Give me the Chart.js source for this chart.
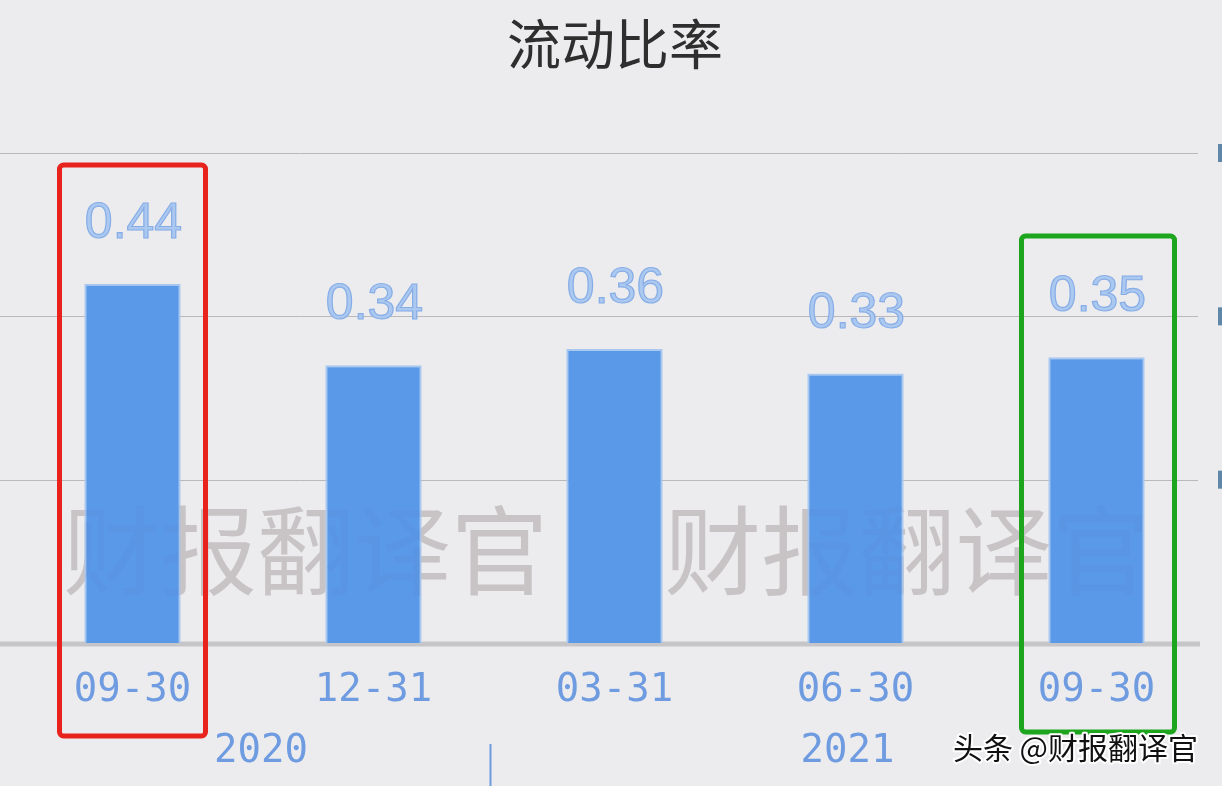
<!DOCTYPE html>
<html>
<head>
<meta charset="utf-8">
<title>流动比率</title>
<script src="https://cdn.jsdelivr.net/npm/chart.js@4.4.1/dist/chart.umd.min.js"></script>
<style>
  html, body { margin: 0; padding: 0; background: #ececee; }
  .wrap { position: relative; width: 1222px; height: 786px; }
</style>
</head>
<body>
<div class="wrap"><canvas id="ratioChart"></canvas></div>
<script>
// data
const dates = ['09-30', '12-31', '03-31', '06-30', '09-30'];
const years = ['2020', '2020', '2021', '2021', '2021'];
const ratios = [0.44, 0.34, 0.36, 0.33, 0.35];
const gridValues = [0.2, 0.4, 0.6];

const chartTitle = '流动比率';
const watermark = '财报翻译官';
const credit = '头条 @财报翻译官';

const labelBlue = '#6f9be0';

function drawWatermark(chart, color) {
  const ctx = chart.ctx;
  ctx.save();
  ctx.fillStyle = color;
  ctx.font = '97px "Noto Sans CJK SC"';
  ctx.textAlign = 'center';
  ctx.textBaseline = 'middle';
  ctx.fillText(watermark, chart.width * 0.25, 550);
  ctx.fillText(watermark, chart.width * 0.742, 550);
  ctx.restore();
}

// grid, watermark, title, year row, value labels, highlight boxes
const decorations = {
  id: 'decorations',
  beforeDatasetsDraw(chart) {
    const { ctx, chartArea, scales } = chart;
    const y = scales.y;
    ctx.save();
    // horizontal grid
    ctx.strokeStyle = '#b9b9bb';
    ctx.lineWidth = 1;
    gridValues.forEach(v => {
      const py = Math.round(y.getPixelForValue(v)) + 0.5;
      ctx.beginPath();
      ctx.moveTo(0, py);
      ctx.lineTo(chartArea.right - 19, py);
      ctx.stroke();
    });
    // baseline
    ctx.strokeStyle = '#c6c6c8';
    ctx.lineWidth = 5;
    const by = y.getPixelForValue(0) + 1;
    ctx.beginPath();
    ctx.moveTo(0, by);
    ctx.lineTo(chartArea.right - 17, by);
    ctx.stroke();
    ctx.restore();

    // watermark behind the bars
    drawWatermark(chart, '#cdc9c9');
  },
  afterDatasetsDraw(chart) {
    const { ctx, scales } = chart;
    const x = scales.x;
    const y = scales.y;
    const meta = chart.getDatasetMeta(0);

    // very faint watermark over the bars too
    drawWatermark(chart, 'rgba(90,80,100,0.035)');

    ctx.save();
    // value labels above bars
    ctx.font = '50px "Liberation Sans"';
    ctx.textAlign = 'center';
    ctx.textBaseline = 'alphabetic';
    ctx.lineWidth = 1.2;
    meta.data.forEach((bar, i) => {
      const txt = ratios[i].toFixed(2);
      ctx.fillStyle = '#abc8f0';
      ctx.fillText(txt, bar.x + 1, bar.y - 46);
      ctx.strokeStyle = '#86ade6';
      ctx.strokeText(txt, bar.x + 1, bar.y - 46);
    });

    // title
    ctx.fillStyle = '#2e2e2e';
    ctx.font = '54px "Noto Sans CJK SC"';
    ctx.textBaseline = 'middle';
    ctx.fillText(chartTitle, chart.width / 2 + 4, 44);

    // year row and separator
    ctx.fillStyle = labelBlue;
    ctx.font = '39px "DejaVu Sans Mono"';
    const groups = [];
    years.forEach((yr, i) => {
      const last = groups[groups.length - 1];
      if (last && last.year === yr) last.end = i;
      else groups.push({ year: yr, start: i, end: i });
    });
    const nudge = [8, -8];
    groups.forEach((g, k) => {
      const cx = (x.getPixelForValue(g.start) + x.getPixelForValue(g.end)) / 2;
      ctx.fillText(g.year, cx + (nudge[k] || 0), 752);
      if (k > 0) {
        const sx = Math.round((x.getPixelForValue(g.start - 1) + x.getPixelForValue(g.start)) / 2) - 4 + 0.5;
        ctx.strokeStyle = labelBlue;
        ctx.lineWidth = 2;
        ctx.beginPath();
        ctx.moveTo(sx, 744);
        ctx.lineTo(sx, 786);
        ctx.stroke();
      }
    });

    // small cut-off marks at the right edge
    ctx.fillStyle = '#5f88a8';
    gridValues.forEach(v => {
      const py = y.getPixelForValue(v);
      ctx.fillRect(chart.width - 4, py - 9, 4, 18);
    });

    // highlight boxes
    const top = y.getPixelForValue(0.6);
    const box = (i, left, right, t, b, color) => {
      const cx = x.getPixelForValue(i);
      ctx.strokeStyle = color;
      ctx.lineWidth = 5;
      ctx.lineJoin = 'round';
      ctx.beginPath();
      ctx.roundRect(cx - left, t, left + right, b - t, 4);
      ctx.stroke();
    };
    box(0, 73, 73, top + 12, 736, '#e8231e');
    box(4, 75, 78, top + 83, 732, '#1ea51e');

    // credit
    ctx.font = '30px "Noto Sans CJK SC"';
    ctx.textAlign = 'right';
    ctx.lineWidth = 4;
    ctx.strokeStyle = '#ffffff';
    ctx.strokeText(credit, chart.width - 24, 748);
    ctx.fillStyle = '#111111';
    ctx.fillText(credit, chart.width - 24, 748);
    ctx.restore();
  }
};

new Chart(document.getElementById('ratioChart'), {
  type: 'bar',
  data: {
    labels: dates,
    datasets: [{
      data: ratios,
      backgroundColor: '#5a98e8',
      borderColor: '#a9c8f0',
      borderWidth: 2,
      borderSkipped: 'bottom',
      categoryPercentage: 1,
      barPercentage: 0.4
    }]
  },
  options: {
    responsive: true,
    maintainAspectRatio: false,
    animation: false,
    layout: { padding: { top: 153, left: 12, right: 5, bottom: 0 } },
    plugins: {
      legend: { display: false },
      title: { display: false },
      tooltip: { enabled: false }
    },
    scales: {
      x: {
        grid: { display: false, drawTicks: false },
        border: { display: false },
        ticks: {
          color: labelBlue,
          font: { family: 'DejaVu Sans Mono', size: 39 },
          padding: 24,
          maxRotation: 0
        },
        afterFit(scale) { scale.height = 143; }
      },
      y: {
        display: false,
        min: 0,
        max: 0.6
      }
    }
  },
  plugins: [decorations]
});
</script>
</body>
</html>
